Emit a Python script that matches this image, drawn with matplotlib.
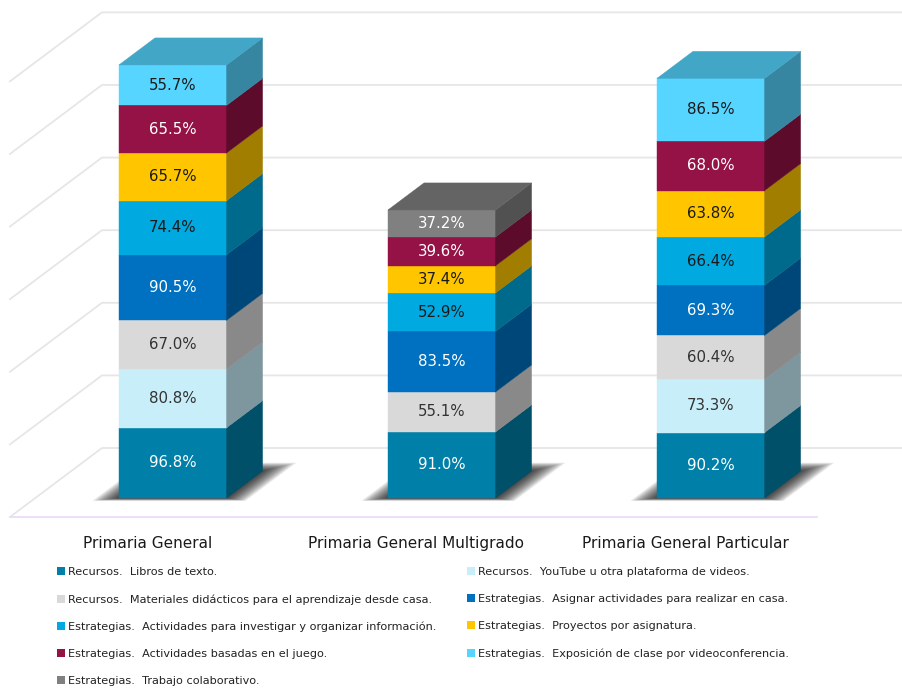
import numpy as np
import matplotlib
matplotlib.use("Agg")
import matplotlib.pyplot as plt
from matplotlib.patches import Polygon, Patch

plt.rcParams['font.family'] = ['DejaVu Sans']

# datos
categorias = ["Primaria General", "Primaria General Multigrado", "Primaria General Particular"]
libros = [96.8, 91.0, 90.2]
youtube = [80.8, np.nan, 73.3]
materiales = [67.0, 55.1, 60.4]
asignar = [90.5, 83.5, 69.3]
investigar = [74.4, 52.9, 66.4]
proyectos = [65.7, 37.4, 63.8]
juego = [65.5, 39.6, 68.0]
videoconf = [55.7, np.nan, 86.5]
colaborativo = [np.nan, 37.2, np.nan]

series = [libros, youtube, materiales, asignar, investigar, proyectos, juego, videoconf, colaborativo]
nombres = ["Recursos.  Libros de texto.",
           "Recursos.  YouTube u otra plataforma de videos.",
           "Recursos.  Materiales didácticos para el aprendizaje desde casa.",
           "Estrategias.  Asignar actividades para realizar en casa.",
           "Estrategias.  Actividades para investigar y organizar información.",
           "Estrategias.  Proyectos por asignatura.",
           "Estrategias.  Actividades basadas en el juego.",
           "Estrategias.  Exposición de clase por videoconferencia.",
           "Estrategias.  Trabajo colaborativo."]
colores = ["#007FA8", "#C8EEFA", "#D9D9D9", "#0070C0", "#00A9E0",
           "#FFC600", "#941245", "#55D5FF", "#808080"]
texto_col = ["white", "#333333", "#333333", "white", "#1a1a1a",
             "#1a1a1a", "white", "#1a1a1a", "white"]

# proyeccion oblicua simple
DX = 92 / 269.0      # desplazamiento x de toda la profundidad
DY = 95.0            # desplazamiento y de toda la profundidad
ZF, ZB = 0.275, 0.667  # frente y fondo de las barras
W = 0.4
XL, XR = -0.511, 2.49


def proj(x, y, z):
    return (x + z * DX, y + z * DY)


def shade(c, f):
    r, g, b = matplotlib.colors.to_rgb(c)
    return (r * f, g * f, b * f)


fig = plt.figure(figsize=(9.02, 6.88), dpi=100)
ax = fig.add_axes([0, 0, 1, 1])
ax.set_xlim(-0.548, 2.805)
ax.set_ylim(-235.5, 712)
ax.axis('off')

# rejilla
for v in range(0, 700, 100):
    p0 = proj(XL, v, 0)
    p1 = proj(XL, v, 1)
    p2 = proj(XR, v, 1)
    ax.plot([p0[0], p1[0], p2[0]], [p0[1], p1[1], p2[1]], color="#E6E6E6", lw=1.3, zorder=1)
f0 = proj(XL, 0, 0)
f1 = proj(XR, 0, 0)
ax.plot([f0[0], f1[0]], [f0[1], f1[1]], color="#E9DDF7", lw=1.3, zorder=1)

# barras
for i in range(len(categorias)):
    xl, xr = i - W / 2, i + W / 2
    # sombra difusa
    for k in np.linspace(1.0, 0.0, 16):
        e = 0.085 * k
        zf = ZF - 0.04 * k
        zb = ZB + 0.12 * k
        pts = [proj(xl - e, 0, zf), proj(xr + e, 0, zf),
               proj(xr + e, 0, zb), proj(xl - e, 0, zb)]
        ax.add_patch(Polygon(pts, closed=True, fc="black", ec="none", alpha=0.075, zorder=2))
    base = 0.0
    ultimo = None
    for s, vals in enumerate(series):
        v = vals[i]
        if np.isnan(v):
            continue
        y0, y1 = base, base + v
        front = [proj(xl, y0, ZF), proj(xr, y0, ZF), proj(xr, y1, ZF), proj(xl, y1, ZF)]
        side = [proj(xr, y0, ZF), proj(xr, y0, ZB), proj(xr, y1, ZB), proj(xr, y1, ZF)]
        ax.add_patch(Polygon(front, closed=True, fc=colores[s], ec=colores[s], lw=0.3, zorder=3))
        ax.add_patch(Polygon(side, closed=True, fc=shade(colores[s], 0.63), ec=shade(colores[s], 0.63), lw=0.3, zorder=3))
        cx, cy = proj(i, (y0 + y1) / 2, ZF)
        ax.text(cx, cy, f"{v:.1f}%", ha="center", va="center", fontsize=10.8,
                color=texto_col[s], zorder=5)
        base = y1
        ultimo = s
    top = [proj(xl, base, ZF), proj(xr, base, ZF), proj(xr, base, ZB), proj(xl, base, ZB)]
    ax.add_patch(Polygon(top, closed=True, fc=shade(colores[ultimo], 0.78), ec=shade(colores[ultimo], 0.78), lw=0.3, zorder=3))
    lx, ly = proj(i, -37, 0)
    ax.text(lx, ly, categorias[i], ha="center", va="center", fontsize=11, color="#1a1a1a")

# leyenda en dos columnas
handles = [Patch(fc=colores[s], ec="none", label=nombres[s]) for s in range(len(series))]
izq = [handles[s] for s in [0, 2, 4, 6, 8]]
der = [handles[s] for s in [1, 3, 5, 7]]
kw = dict(frameon=False, fontsize=8.1, handlelength=0.7, handleheight=0.7,
          handletextpad=0.3, labelspacing=1.52, borderpad=0, borderaxespad=0,
          loc="upper left")
leg1 = fig.legend(handles=izq, bbox_to_anchor=(0.063, 0.176), **kw)
leg2 = fig.legend(handles=der, bbox_to_anchor=(0.518, 0.176), **kw)
for leg in (leg1, leg2):
    for t in leg.get_texts():
        t.set_color("#222222")

fig.savefig("out.png", dpi=100)
